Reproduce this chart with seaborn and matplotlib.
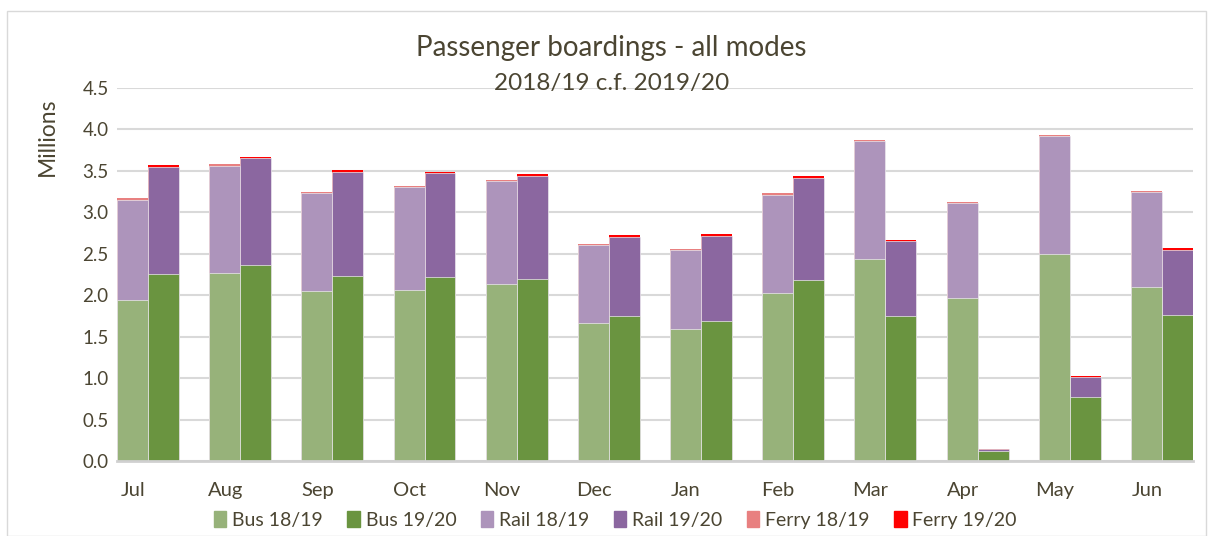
import pandas as pd
import numpy as np
import seaborn as sns
import matplotlib.pyplot as plt
from matplotlib.patches import Patch, Rectangle
from matplotlib.transforms import ScaledTranslation

months = ["Jul", "Aug", "Sep", "Oct", "Nov", "Dec", "Jan", "Feb", "Mar", "Apr", "May", "Jun"]
years = ["18/19", "19/20"]

# millions of boardings
bus_1819 = [1.94, 2.27, 2.05, 2.06, 2.14, 1.665, 1.60, 2.03, 2.435, 1.97, 2.50, 2.10]
bus_1920 = [2.255, 2.37, 2.24, 2.22, 2.20, 1.75, 1.69, 2.19, 1.75, 0.125, 0.78, 1.77]
rail_1819 = [1.215, 1.295, 1.185, 1.245, 1.235, 0.94, 0.945, 1.185, 1.42, 1.145, 1.415, 1.145]
rail_1920 = [1.295, 1.28, 1.25, 1.25, 1.24, 0.955, 1.03, 1.22, 0.90, 0.025, 0.238, 0.78]
ferry_1819 = [0.015, 0.015, 0.015, 0.015, 0.015, 0.015, 0.015, 0.015, 0.015, 0.015, 0.015, 0.015]
ferry_1920 = [0.02, 0.02, 0.02, 0.02, 0.02, 0.02, 0.025, 0.025, 0.02, 0.003, 0.01, 0.02]

df = pd.DataFrame({
    "month": months * 2,
    "year": [years[0]] * 12 + [years[1]] * 12,
    "bus": bus_1819 + bus_1920,
    "rail": rail_1819 + rail_1920,
    "ferry": ferry_1819 + ferry_1920,
})
df["rail_top"] = df["bus"] + df["rail"]
df["ferry_top"] = df["rail_top"] + df["ferry"]

colours = {
    "bus": ["#97B27A", "#6A9440"],
    "rail": ["#AD94BB", "#8B67A0"],
    "ferry": ["#E88080", "#FF0000"],
}
txt = "#4b4532"

sns.set_theme(style="white")
plt.rcParams["font.family"] = ["Lato", "DejaVu Sans"]

fig = plt.figure(figsize=(12.11, 5.36), dpi=100)
ax = fig.add_axes([0.0966, 0.139, 0.8885, 0.697])

# draw stacked layers from the top down so each covers the one below
for col, key, lw in [("ferry_top", "ferry", 0), ("rail_top", "rail", 0.5), ("bus", "bus", 0.5)]:
    sns.barplot(
        data=df, x="month", y=col, hue="year", hue_order=years,
        palette=colours[key], width=0.672, saturation=1, errorbar=None,
        edgecolor="#ece8ee", linewidth=lw, legend=False, ax=ax,
    )

ax.set_ylim(0, 4.5)
ax.set_xlim(-0.336, 11.336)
ax.set_yticks(np.arange(0, 4.51, 0.5))
ax.set_yticklabels([f"{v:.1f}" for v in np.arange(0, 4.51, 0.5)])
ax.yaxis.grid(True, color="#d9d9d9", linewidth=1.5)
ax.set_axisbelow(True)
for s in ["left", "right", "top"]:
    ax.spines[s].set_visible(False)
ax.spines["bottom"].set_color("#d0d0d0")
ax.spines["bottom"].set_linewidth(2)
ax.tick_params(axis="y", length=0, labelsize=13.5, colors=txt, pad=6)
ax.tick_params(axis="x", length=0, labelsize=14.5, colors=txt, pad=15)
shift = ScaledTranslation(-0.15, 0, fig.dpi_scale_trans)
for lab in ax.get_xticklabels():
    lab.set_transform(lab.get_transform() + shift)
ax.set_xlabel("")
ax.set_ylabel("Millions", fontsize=16.5, color=txt)
ax.yaxis.set_label_coords(-0.055, 0.87)

fig.text(0.505, 0.91, "Passenger boardings - all modes", ha="center", va="center",
         fontsize=20, color=txt)
fig.text(0.505, 0.845, "2018/19 c.f. 2019/20", ha="center", va="center",
         fontsize=17.5, color=txt)

handles = [
    Patch(color=colours["bus"][0], label="Bus 18/19"),
    Patch(color=colours["bus"][1], label="Bus 19/20"),
    Patch(color=colours["rail"][0], label="Rail 18/19"),
    Patch(color=colours["rail"][1], label="Rail 19/20"),
    Patch(color=colours["ferry"][0], label="Ferry 18/19"),
    Patch(color=colours["ferry"][1], label="Ferry 19/20"),
]
leg = fig.legend(handles=handles, loc="center", bbox_to_anchor=(0.508, 0.03), ncol=6,
                 frameon=False, fontsize=14, handlelength=0.65, handleheight=0.85,
                 handletextpad=0.3, columnspacing=1.25)
for t in leg.get_texts():
    t.set_color(txt)

fig.patches.append(Rectangle((0.006, 0.0), 0.99, 0.98, transform=fig.transFigure,
                             fill=False, edgecolor="#d9d9d9", linewidth=1))

fig.savefig("out.png", dpi=100)
